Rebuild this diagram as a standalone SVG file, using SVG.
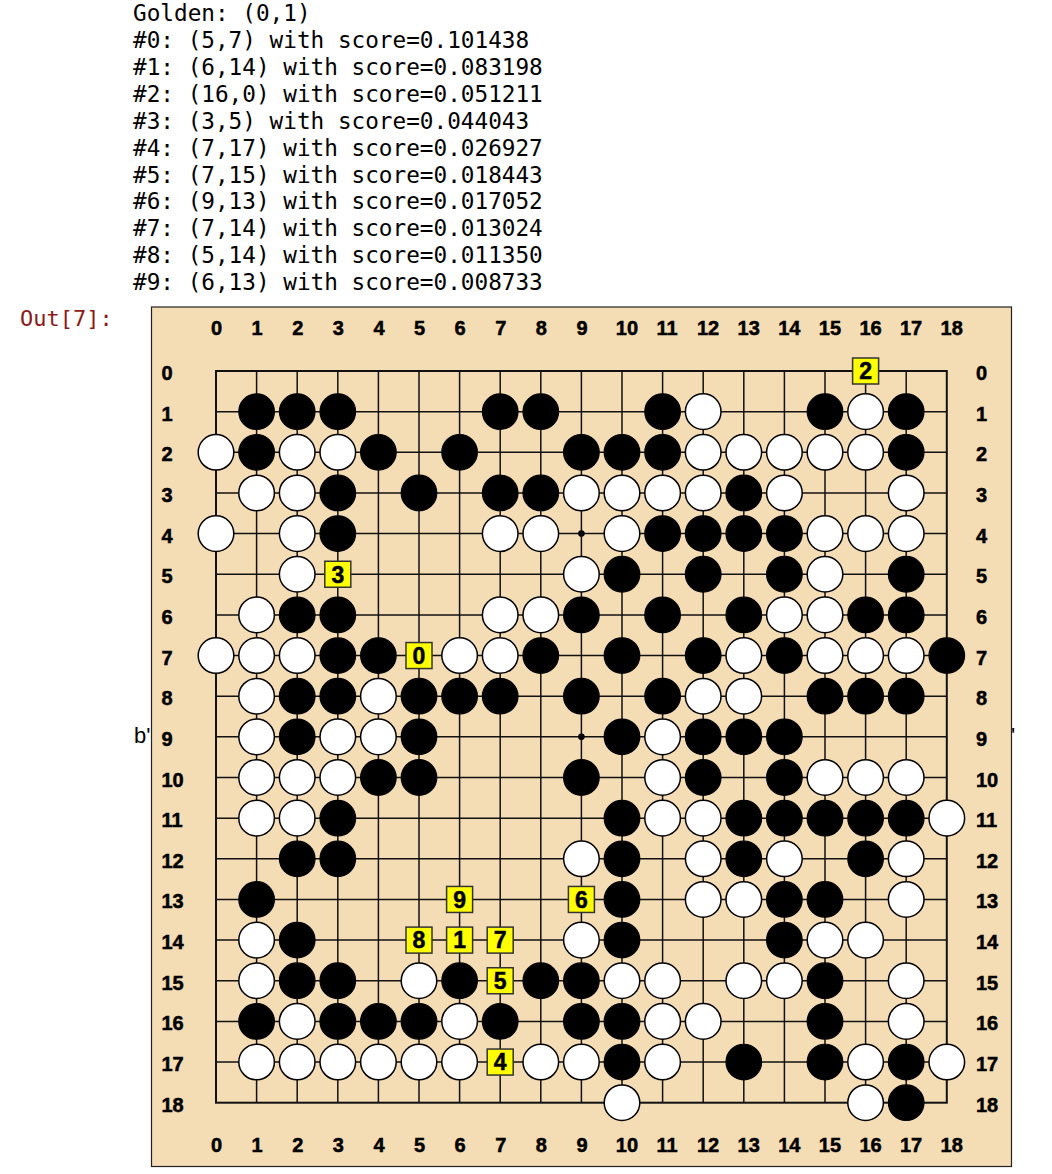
<svg xmlns="http://www.w3.org/2000/svg" xmlns:xlink="http://www.w3.org/1999/xlink" width="1052" height="1174" viewBox="0 0 1052 1174">
<style>
.mono{font-family:"DejaVu Sans Mono",monospace;font-size:22.7px;fill:#000}
.prompt{font-family:"DejaVu Sans Mono",monospace;font-size:22px;fill:#8b1a1a}
.sans{font-family:"Liberation Sans",Arial,sans-serif;font-size:22px;fill:#000}
.lbl{font-family:"Liberation Sans",Arial,sans-serif;font-weight:bold;font-size:20px;fill:#000;stroke:#000;stroke-width:0.5}
.mk{font-family:"Liberation Sans",Arial,sans-serif;font-weight:bold;font-size:23px;fill:#000;stroke:#000;stroke-width:0.5;text-anchor:middle}
.grid{fill:none;stroke:#111;stroke-width:1.5}
.bs{fill:#000;stroke:#000;stroke-width:1.2}
.ws{fill:#fff;stroke:#000;stroke-width:1.5}
.mkr{fill:#ffff00;stroke:#333;stroke-width:1.5}
</style>
<defs>
<circle id="B" r="17.8" class="bs"/>
<circle id="W" r="17.8" class="ws"/>
<rect id="M" x="-13" y="-13" width="26" height="26" class="mkr"/>
</defs>
<rect width="1052" height="1174" fill="#fff"/>
<g id="header">
<text class="mono" x="133" y="21">Golden: (0,1)</text>
<text class="mono" x="133" y="48">#0: (5,7) with score=0.101438</text>
<text class="mono" x="133" y="75">#1: (6,14) with score=0.083198</text>
<text class="mono" x="133" y="102">#2: (16,0) with score=0.051211</text>
<text class="mono" x="133" y="129">#3: (3,5) with score=0.044043</text>
<text class="mono" x="133" y="156">#4: (7,17) with score=0.026927</text>
<text class="mono" x="133" y="183">#5: (7,15) with score=0.018443</text>
<text class="mono" x="133" y="209">#6: (9,13) with score=0.017052</text>
<text class="mono" x="133" y="236">#7: (7,14) with score=0.013024</text>
<text class="mono" x="133" y="263">#8: (5,14) with score=0.011350</text>
<text class="mono" x="133" y="290">#9: (6,13) with score=0.008733</text>
<text class="prompt" x="20" y="326">Out[7]:</text>
<text class="sans" x="134" y="743">b'</text>
<text class="sans" x="1011" y="743">'</text>
</g>
<rect id="board-bg" x="151.5" y="307" width="860" height="859.5" fill="#f4dcb4" stroke="#222" stroke-width="1.2"/>
<g id="labels" class="lbl">
<text x="211" y="335">0</text><text x="251.6" y="335">1</text><text x="292.2" y="335">2</text><text x="332.8" y="335">3</text><text x="373.4" y="335">4</text><text x="414" y="335">5</text><text x="454.6" y="335">6</text><text x="495.2" y="335">7</text><text x="535.8" y="335">8</text><text x="576.4" y="335">9</text><text x="615.8" y="335">10</text><text x="656.4" y="335">11</text><text x="697" y="335">12</text><text x="737.6" y="335">13</text><text x="778.2" y="335">14</text><text x="818.8" y="335">15</text><text x="859.4" y="335">16</text><text x="900" y="335">17</text><text x="940.6" y="335">18</text>
<text x="211" y="1151.5">0</text><text x="251.6" y="1151.5">1</text><text x="292.2" y="1151.5">2</text><text x="332.8" y="1151.5">3</text><text x="373.4" y="1151.5">4</text><text x="414" y="1151.5">5</text><text x="454.6" y="1151.5">6</text><text x="495.2" y="1151.5">7</text><text x="535.8" y="1151.5">8</text><text x="576.4" y="1151.5">9</text><text x="615.8" y="1151.5">10</text><text x="656.4" y="1151.5">11</text><text x="697" y="1151.5">12</text><text x="737.6" y="1151.5">13</text><text x="778.2" y="1151.5">14</text><text x="818.8" y="1151.5">15</text><text x="859.4" y="1151.5">16</text><text x="900" y="1151.5">17</text><text x="940.6" y="1151.5">18</text>
<text x="161.5" y="380">0</text><text x="161.5" y="420.65">1</text><text x="161.5" y="461.3">2</text><text x="161.5" y="501.95">3</text><text x="161.5" y="542.6">4</text><text x="161.5" y="583.25">5</text><text x="161.5" y="623.9">6</text><text x="161.5" y="664.55">7</text><text x="161.5" y="705.2">8</text><text x="161.5" y="745.85">9</text><text x="161.5" y="786.5">10</text><text x="161.5" y="827.15">11</text><text x="161.5" y="867.8">12</text><text x="161.5" y="908.45">13</text><text x="161.5" y="949.1">14</text><text x="161.5" y="989.75">15</text><text x="161.5" y="1030.4">16</text><text x="161.5" y="1071.05">17</text><text x="161.5" y="1111.7">18</text>
<text x="976" y="380">0</text><text x="976" y="420.65">1</text><text x="976" y="461.3">2</text><text x="976" y="501.95">3</text><text x="976" y="542.6">4</text><text x="976" y="583.25">5</text><text x="976" y="623.9">6</text><text x="976" y="664.55">7</text><text x="976" y="705.2">8</text><text x="976" y="745.85">9</text><text x="976" y="786.5">10</text><text x="976" y="827.15">11</text><text x="976" y="867.8">12</text><text x="976" y="908.45">13</text><text x="976" y="949.1">14</text><text x="976" y="989.75">15</text><text x="976" y="1030.4">16</text><text x="976" y="1071.05">17</text><text x="976" y="1111.7">18</text>
</g>
<g id="board" transform="translate(216,371)">
<g id="grid">
<path class="grid" d="M40.6 0V731.7M81.2 0V731.7M121.8 0V731.7M162.4 0V731.7M203 0V731.7M243.6 0V731.7M284.2 0V731.7M324.8 0V731.7M365.4 0V731.7M406 0V731.7M446.6 0V731.7M487.2 0V731.7M527.8 0V731.7M568.4 0V731.7M609 0V731.7M649.6 0V731.7M690.2 0V731.7M0 40.65H730.8M0 81.3H730.8M0 121.95H730.8M0 162.6H730.8M0 203.25H730.8M0 243.9H730.8M0 284.55H730.8M0 325.2H730.8M0 365.85H730.8M0 406.5H730.8M0 447.15H730.8M0 487.8H730.8M0 528.45H730.8M0 569.1H730.8M0 609.75H730.8M0 650.4H730.8M0 691.05H730.8"/>
<rect x="0" y="0" width="730.8" height="731.7" fill="none" stroke="#111" stroke-width="2"/>
<circle cx="365.4" cy="162.6" r="3.3" fill="#000"/>
<circle cx="365.4" cy="365.85" r="3.3" fill="#000"/>
</g>
<g id="black-stones">
<use href="#B" x="40.6" y="40.65"/><use href="#B" x="81.2" y="40.65"/><use href="#B" x="121.8" y="40.65"/><use href="#B" x="284.2" y="40.65"/><use href="#B" x="324.8" y="40.65"/><use href="#B" x="446.6" y="40.65"/><use href="#B" x="609" y="40.65"/><use href="#B" x="690.2" y="40.65"/>
<use href="#B" x="40.6" y="81.3"/><use href="#B" x="162.4" y="81.3"/><use href="#B" x="243.6" y="81.3"/><use href="#B" x="365.4" y="81.3"/><use href="#B" x="406" y="81.3"/><use href="#B" x="446.6" y="81.3"/><use href="#B" x="690.2" y="81.3"/>
<use href="#B" x="121.8" y="121.95"/><use href="#B" x="203" y="121.95"/><use href="#B" x="284.2" y="121.95"/><use href="#B" x="324.8" y="121.95"/><use href="#B" x="527.8" y="121.95"/>
<use href="#B" x="121.8" y="162.6"/><use href="#B" x="446.6" y="162.6"/><use href="#B" x="487.2" y="162.6"/><use href="#B" x="527.8" y="162.6"/><use href="#B" x="568.4" y="162.6"/>
<use href="#B" x="406" y="203.25"/><use href="#B" x="487.2" y="203.25"/><use href="#B" x="568.4" y="203.25"/><use href="#B" x="690.2" y="203.25"/>
<use href="#B" x="81.2" y="243.9"/><use href="#B" x="121.8" y="243.9"/><use href="#B" x="365.4" y="243.9"/><use href="#B" x="446.6" y="243.9"/><use href="#B" x="527.8" y="243.9"/><use href="#B" x="649.6" y="243.9"/><use href="#B" x="690.2" y="243.9"/>
<use href="#B" x="121.8" y="284.55"/><use href="#B" x="162.4" y="284.55"/><use href="#B" x="324.8" y="284.55"/><use href="#B" x="406" y="284.55"/><use href="#B" x="487.2" y="284.55"/><use href="#B" x="568.4" y="284.55"/><use href="#B" x="730.8" y="284.55"/>
<use href="#B" x="81.2" y="325.2"/><use href="#B" x="121.8" y="325.2"/><use href="#B" x="203" y="325.2"/><use href="#B" x="243.6" y="325.2"/><use href="#B" x="284.2" y="325.2"/><use href="#B" x="365.4" y="325.2"/><use href="#B" x="446.6" y="325.2"/><use href="#B" x="609" y="325.2"/><use href="#B" x="649.6" y="325.2"/><use href="#B" x="690.2" y="325.2"/>
<use href="#B" x="81.2" y="365.85"/><use href="#B" x="203" y="365.85"/><use href="#B" x="406" y="365.85"/><use href="#B" x="487.2" y="365.85"/><use href="#B" x="527.8" y="365.85"/><use href="#B" x="568.4" y="365.85"/>
<use href="#B" x="162.4" y="406.5"/><use href="#B" x="203" y="406.5"/><use href="#B" x="365.4" y="406.5"/><use href="#B" x="487.2" y="406.5"/><use href="#B" x="568.4" y="406.5"/>
<use href="#B" x="121.8" y="447.15"/><use href="#B" x="406" y="447.15"/><use href="#B" x="527.8" y="447.15"/><use href="#B" x="568.4" y="447.15"/><use href="#B" x="609" y="447.15"/><use href="#B" x="649.6" y="447.15"/><use href="#B" x="690.2" y="447.15"/>
<use href="#B" x="81.2" y="487.8"/><use href="#B" x="121.8" y="487.8"/><use href="#B" x="406" y="487.8"/><use href="#B" x="527.8" y="487.8"/><use href="#B" x="649.6" y="487.8"/>
<use href="#B" x="40.6" y="528.45"/><use href="#B" x="406" y="528.45"/><use href="#B" x="568.4" y="528.45"/><use href="#B" x="609" y="528.45"/>
<use href="#B" x="81.2" y="569.1"/><use href="#B" x="406" y="569.1"/><use href="#B" x="568.4" y="569.1"/>
<use href="#B" x="81.2" y="609.75"/><use href="#B" x="121.8" y="609.75"/><use href="#B" x="243.6" y="609.75"/><use href="#B" x="324.8" y="609.75"/><use href="#B" x="365.4" y="609.75"/><use href="#B" x="609" y="609.75"/>
<use href="#B" x="40.6" y="650.4"/><use href="#B" x="121.8" y="650.4"/><use href="#B" x="162.4" y="650.4"/><use href="#B" x="203" y="650.4"/><use href="#B" x="284.2" y="650.4"/><use href="#B" x="365.4" y="650.4"/><use href="#B" x="406" y="650.4"/><use href="#B" x="609" y="650.4"/>
<use href="#B" x="406" y="691.05"/><use href="#B" x="527.8" y="691.05"/><use href="#B" x="609" y="691.05"/><use href="#B" x="690.2" y="691.05"/>
<use href="#B" x="690.2" y="731.7"/>
</g>
<g id="white-stones">
<use href="#W" x="487.2" y="40.65"/><use href="#W" x="649.6" y="40.65"/>
<use href="#W" x="0" y="81.3"/><use href="#W" x="81.2" y="81.3"/><use href="#W" x="121.8" y="81.3"/><use href="#W" x="487.2" y="81.3"/><use href="#W" x="527.8" y="81.3"/><use href="#W" x="568.4" y="81.3"/><use href="#W" x="609" y="81.3"/><use href="#W" x="649.6" y="81.3"/>
<use href="#W" x="40.6" y="121.95"/><use href="#W" x="81.2" y="121.95"/><use href="#W" x="365.4" y="121.95"/><use href="#W" x="406" y="121.95"/><use href="#W" x="446.6" y="121.95"/><use href="#W" x="487.2" y="121.95"/><use href="#W" x="568.4" y="121.95"/><use href="#W" x="690.2" y="121.95"/>
<use href="#W" x="0" y="162.6"/><use href="#W" x="81.2" y="162.6"/><use href="#W" x="284.2" y="162.6"/><use href="#W" x="324.8" y="162.6"/><use href="#W" x="406" y="162.6"/><use href="#W" x="609" y="162.6"/><use href="#W" x="649.6" y="162.6"/><use href="#W" x="690.2" y="162.6"/>
<use href="#W" x="81.2" y="203.25"/><use href="#W" x="365.4" y="203.25"/><use href="#W" x="609" y="203.25"/>
<use href="#W" x="40.6" y="243.9"/><use href="#W" x="284.2" y="243.9"/><use href="#W" x="324.8" y="243.9"/><use href="#W" x="568.4" y="243.9"/><use href="#W" x="609" y="243.9"/>
<use href="#W" x="0" y="284.55"/><use href="#W" x="40.6" y="284.55"/><use href="#W" x="81.2" y="284.55"/><use href="#W" x="243.6" y="284.55"/><use href="#W" x="284.2" y="284.55"/><use href="#W" x="527.8" y="284.55"/><use href="#W" x="609" y="284.55"/><use href="#W" x="649.6" y="284.55"/><use href="#W" x="690.2" y="284.55"/>
<use href="#W" x="40.6" y="325.2"/><use href="#W" x="162.4" y="325.2"/><use href="#W" x="487.2" y="325.2"/><use href="#W" x="527.8" y="325.2"/>
<use href="#W" x="40.6" y="365.85"/><use href="#W" x="121.8" y="365.85"/><use href="#W" x="162.4" y="365.85"/><use href="#W" x="446.6" y="365.85"/>
<use href="#W" x="40.6" y="406.5"/><use href="#W" x="81.2" y="406.5"/><use href="#W" x="121.8" y="406.5"/><use href="#W" x="446.6" y="406.5"/><use href="#W" x="609" y="406.5"/><use href="#W" x="649.6" y="406.5"/><use href="#W" x="690.2" y="406.5"/>
<use href="#W" x="40.6" y="447.15"/><use href="#W" x="81.2" y="447.15"/><use href="#W" x="446.6" y="447.15"/><use href="#W" x="487.2" y="447.15"/><use href="#W" x="730.8" y="447.15"/>
<use href="#W" x="365.4" y="487.8"/><use href="#W" x="487.2" y="487.8"/><use href="#W" x="568.4" y="487.8"/><use href="#W" x="690.2" y="487.8"/>
<use href="#W" x="487.2" y="528.45"/><use href="#W" x="527.8" y="528.45"/><use href="#W" x="690.2" y="528.45"/>
<use href="#W" x="40.6" y="569.1"/><use href="#W" x="365.4" y="569.1"/><use href="#W" x="609" y="569.1"/><use href="#W" x="649.6" y="569.1"/>
<use href="#W" x="40.6" y="609.75"/><use href="#W" x="203" y="609.75"/><use href="#W" x="406" y="609.75"/><use href="#W" x="446.6" y="609.75"/><use href="#W" x="527.8" y="609.75"/><use href="#W" x="568.4" y="609.75"/><use href="#W" x="690.2" y="609.75"/>
<use href="#W" x="81.2" y="650.4"/><use href="#W" x="243.6" y="650.4"/><use href="#W" x="446.6" y="650.4"/><use href="#W" x="487.2" y="650.4"/><use href="#W" x="690.2" y="650.4"/>
<use href="#W" x="40.6" y="691.05"/><use href="#W" x="81.2" y="691.05"/><use href="#W" x="121.8" y="691.05"/><use href="#W" x="162.4" y="691.05"/><use href="#W" x="203" y="691.05"/><use href="#W" x="243.6" y="691.05"/><use href="#W" x="324.8" y="691.05"/><use href="#W" x="365.4" y="691.05"/><use href="#W" x="446.6" y="691.05"/><use href="#W" x="649.6" y="691.05"/><use href="#W" x="730.8" y="691.05"/>
<use href="#W" x="406" y="731.7"/><use href="#W" x="649.6" y="731.7"/>
</g>
<g id="candidates">
<g id="cand-0"><use href="#M" x="203" y="284.55"/><text class="mk" x="203" y="292.8">0</text></g>
<g id="cand-1"><use href="#M" x="243.6" y="569.1"/><text class="mk" x="243.6" y="577.35">1</text></g>
<g id="cand-2"><use href="#M" x="649.6" y="0"/><text class="mk" x="649.6" y="8.25">2</text></g>
<g id="cand-3"><use href="#M" x="121.8" y="203.25"/><text class="mk" x="121.8" y="211.5">3</text></g>
<g id="cand-4"><use href="#M" x="284.2" y="691.05"/><text class="mk" x="284.2" y="699.3">4</text></g>
<g id="cand-5"><use href="#M" x="284.2" y="609.75"/><text class="mk" x="284.2" y="618">5</text></g>
<g id="cand-6"><use href="#M" x="365.4" y="528.45"/><text class="mk" x="365.4" y="536.7">6</text></g>
<g id="cand-7"><use href="#M" x="284.2" y="569.1"/><text class="mk" x="284.2" y="577.35">7</text></g>
<g id="cand-8"><use href="#M" x="203" y="569.1"/><text class="mk" x="203" y="577.35">8</text></g>
<g id="cand-9"><use href="#M" x="243.6" y="528.45"/><text class="mk" x="243.6" y="536.7">9</text></g>
</g>
</g>
</svg>
